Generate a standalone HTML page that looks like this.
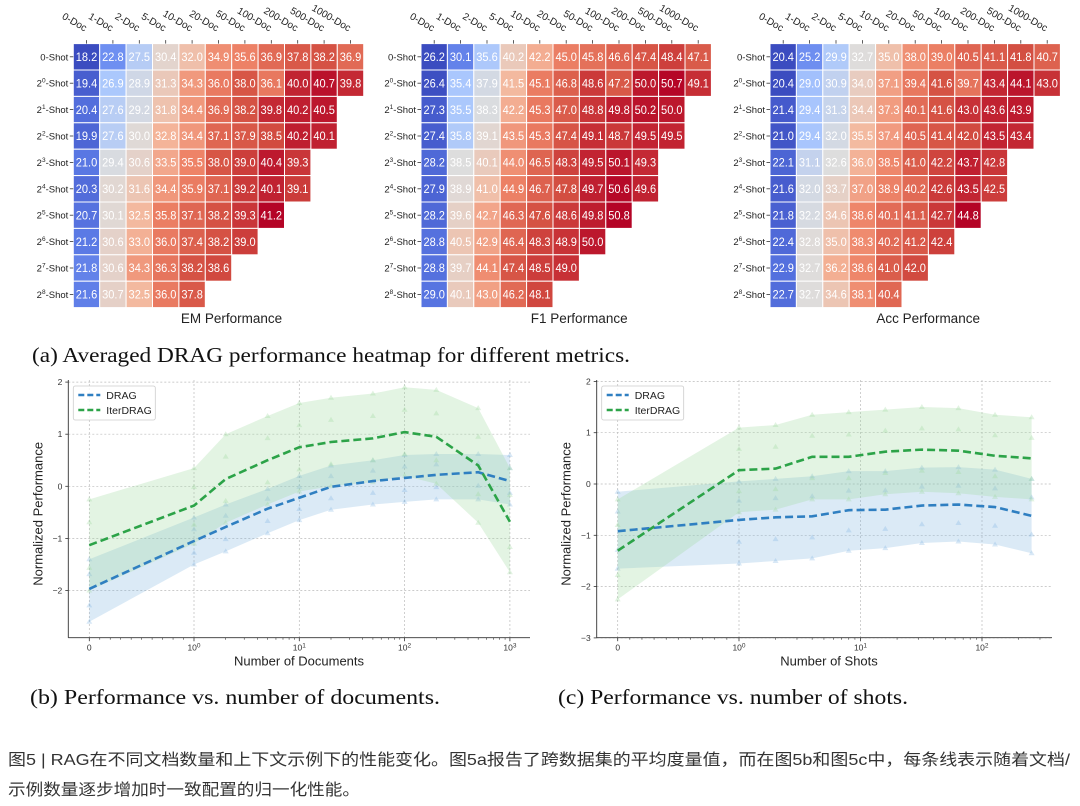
<!DOCTYPE html>
<html><head><meta charset="utf-8"><style>
html,body{margin:0;padding:0;background:#fff;}
svg{display:block;}
</style></head><body>
<svg id="fig" xmlns="http://www.w3.org/2000/svg" width="1080" height="806" viewBox="0 0 1080 806" font-family="'Liberation Sans', 'DejaVu Sans', sans-serif">
<rect x="0" y="0" width="1080" height="806" fill="#fff"/>
<g id="heatmaps"></g>
<g id="chartB"></g>
<g id="chartC"></g>
<text x="32" y="362" font-family="'Liberation Serif', serif" font-size="21" fill="#111" textLength="598" lengthAdjust="spacingAndGlyphs">(a) Averaged DRAG performance heatmap for different metrics.</text>
<text x="30" y="704" font-family="'Liberation Serif', serif" font-size="21" fill="#111" textLength="410" lengthAdjust="spacingAndGlyphs">(b) Performance vs. number of documents.</text>
<text x="558" y="704" font-family="'Liberation Serif', serif" font-size="21" fill="#111" textLength="350" lengthAdjust="spacingAndGlyphs">(c) Performance vs. number of shots.</text>
<text x="8" y="765" font-family="'Liberation Sans', 'Noto Sans CJK SC', sans-serif" font-size="16" fill="#333" textLength="1062" lengthAdjust="spacingAndGlyphs">图5 | RAG在不同文档数量和上下文示例下的性能变化。图5a报告了跨数据集的平均度量值，而在图5b和图5c中，每条线表示随着文档/</text>
<text x="8" y="795" font-family="'Liberation Sans', 'Noto Sans CJK SC', sans-serif" font-size="16" fill="#333" textLength="352" lengthAdjust="spacingAndGlyphs">示例数量逐步增加时一致配置的归一化性能。</text>
</svg>
<script>
// ---------- Heatmap data ----------
const docLabels = ["0-Doc","1-Doc","2-Doc","5-Doc","10-Doc","20-Doc","50-Doc","100-Doc","200-Doc","500-Doc","1000-Doc"];
const shotLabels = ["0","0","1","2","3","4","5","6","7","8"];
const emVals = [
[18.2,22.8,27.5,30.4,32.0,34.9,35.6,36.9,37.8,38.2,36.9],
[19.4,26.9,28.9,31.3,34.3,36.0,38.0,36.1,40.0,40.7,39.8],
[20.4,27.6,29.2,31.8,34.4,36.9,38.2,39.8,40.2,40.5],
[19.9,27.6,30.0,32.8,34.4,37.1,37.9,38.5,40.2,40.1],
[21.0,29.4,30.6,33.5,35.5,38.0,39.0,40.4,39.3],
[20.3,30.2,31.6,34.4,35.9,37.1,39.2,40.1,39.1],
[20.7,30.1,32.5,35.8,37.1,38.2,39.3,41.2],
[21.2,30.6,33.0,36.0,37.4,38.2,39.0],
[21.8,30.6,34.3,36.3,38.2,38.6],
[21.6,30.7,32.5,36.0,37.8]];
const f1Vals = [
[26.2,30.1,35.6,40.2,42.2,45.0,45.8,46.6,47.4,48.4,47.1],
[26.4,35.4,37.9,41.5,45.1,46.8,48.6,47.2,50.0,50.7,49.1],
[27.3,35.5,38.3,42.2,45.3,47.0,48.8,49.8,50.2,50.0],
[27.4,35.8,39.1,43.5,45.3,47.4,49.1,48.7,49.5,49.5],
[28.2,38.5,40.1,44.0,46.5,48.3,49.5,50.1,49.3],
[27.9,38.9,41.0,44.9,46.7,47.8,49.7,50.6,49.6],
[28.2,39.6,42.7,46.3,47.6,48.6,49.8,50.8],
[28.8,40.5,42.9,46.4,48.3,48.9,50.0],
[28.8,39.7,44.1,47.4,48.5,49.0],
[29.0,40.1,43.0,46.2,48.1]];
const accVals = [
[20.4,25.2,29.9,32.7,35.0,38.0,39.0,40.5,41.1,41.8,40.7],
[20.4,29.0,30.9,34.0,37.1,39.4,41.6,39.7,43.4,44.1,43.0],
[21.4,29.4,31.3,34.4,37.3,40.1,41.6,43.0,43.6,43.9],
[21.0,29.4,32.0,35.5,37.4,40.5,41.4,42.0,43.5,43.4],
[22.1,31.1,32.6,36.0,38.5,41.0,42.2,43.7,42.8],
[21.6,32.0,33.7,37.0,38.9,40.2,42.6,43.5,42.5],
[21.8,32.2,34.6,38.6,40.1,41.1,42.7,44.8],
[22.4,32.8,35.0,38.3,40.2,41.2,42.4],
[22.9,32.7,36.2,38.6,41.0,42.0],
[22.7,32.7,34.6,38.1,40.4]];
const heatTitles = ["EM Performance","F1 Performance","Acc Performance"];

// ---------- Line chart data ----------
const docX = [0,1,2,5,10,20,50,100,200,500,1000];
const docDrag = [-1.97,-1.05,-0.78,-0.43,-0.22,-0.01,0.10,0.16,0.22,0.27,0.10];
const docDragHi = [-1.4,-0.6,-0.35,-0.05,0.2,0.4,0.5,0.6,0.62,0.62,0.6];
const docDragLo = [-2.6,-1.5,-1.25,-0.9,-0.65,-0.45,-0.35,-0.3,-0.25,-0.25,-0.35];
const docIter = [-1.13,-0.37,0.14,0.50,0.75,0.85,0.92,1.04,0.95,0.40,-0.68];
const docIterHi = [-0.25,0.35,1.0,1.35,1.6,1.7,1.78,1.9,1.85,1.5,0.35];
const docIterLo = [-2.0,-1.1,-0.7,-0.35,-0.1,0.0,0.08,0.2,0.05,-0.7,-1.65];
const shotX = [0,1,2,4,8,16,32,64,128,256];
const shotDrag = [-0.92,-0.70,-0.65,-0.63,-0.51,-0.50,-0.42,-0.40,-0.45,-0.62];
const shotDragHi = [-0.15,0.05,0.1,0.15,0.25,0.25,0.32,0.33,0.28,0.1];
const shotDragLo = [-1.65,-1.55,-1.5,-1.45,-1.3,-1.25,-1.15,-1.12,-1.18,-1.35];
const shotIter = [-1.30,0.27,0.30,0.53,0.53,0.63,0.67,0.65,0.55,0.50];
const shotIterHi = [-0.3,1.1,1.15,1.35,1.4,1.45,1.5,1.48,1.35,1.3];
const shotIterLo = [-2.25,-0.55,-0.5,-0.3,-0.3,-0.2,-0.15,-0.18,-0.25,-0.3];
const yTicksB = [2,1,0,-1,-2];
const yTicksC = [2,1,0,-1,-2,-3];

const NS = "http://www.w3.org/2000/svg";
function mk(parent, tag, attrs, text){
  const e = document.createElementNS(NS, tag);
  for (const k in attrs) e.setAttribute(k, attrs[k]);
  if (text !== undefined) e.textContent = text;
  parent.appendChild(e);
  return e;
}
const cmapStops = [[0,[59,76,192]],[0.125,[90,120,228]],[0.25,[124,159,249]],[0.375,[170,199,253]],[0.5,[221,221,221]],[0.625,[244,184,157]],[0.75,[238,132,104]],[0.875,[212,80,66]],[1,[180,4,38]]];
function coolwarm(t){
  t = Math.max(0, Math.min(1, t));
  for (let i=1;i<cmapStops.length;i++){
    if (t <= cmapStops[i][0]){
      const a = cmapStops[i-1], b = cmapStops[i];
      const f = (t-a[0])/(b[0]-a[0]);
      const c = a[1].map((v,j)=>Math.round(v+(b[1][j]-v)*f));
      return "rgb("+c.join(",")+")";
    }
  }
  return "rgb(180,4,38)";
}

// ---------- Heatmaps ----------
const hm = document.getElementById("heatmaps");
const heatData = [emVals, f1Vals, accVals];
const heatLeft = [73.3, 421, 770];
const cellW = 26.4, cellH = 26.4, heatTop = 43.6;
heatData.forEach((vals, hi) => {
  const g = mk(hm, "g", {});
  
  
  const flat = vals.flat();
  const mn = Math.min(...flat), mx = Math.max(...flat);
  const x0 = heatLeft[hi];
  vals.forEach((row, r) => {
    row.forEach((v, c) => {
      const x = x0 + c*cellW, y = heatTop + r*cellH;
      const rect = mk(g, "rect", {x:x, y:y, width:cellW, height:cellH, fill:coolwarm((v-mn)/(mx-mn)), stroke:"#fff", "stroke-width":1});
      
      
      const t = mk(g, "text", {x:x+cellW/2, y:y+cellH/2+4.2, "text-anchor":"middle", "font-size":"11.5", fill:"#fff", textLength:"21.5", lengthAdjust:"spacingAndGlyphs"}, v.toFixed(1));
      
      
    });
  });
  shotLabels.forEach((s, r) => {
    const y = heatTop + r*cellH + cellH/2;
    mk(g, "line", {x1:x0-3.5, x2:x0, y1:y, y2:y, stroke:"#333", "stroke-width":0.8});
    const t = mk(g, "text", {x:x0-5, y:y+3.5, "text-anchor":"end", "font-size":"9.5", fill:"#222"});
    
    
    if (r === 0) { t.textContent = "0-Shot"; }
    else {
      mk(t, "tspan", {}, "2");
      mk(t, "tspan", {dy:-4, "font-size":"6.5"}, s);
      mk(t, "tspan", {dy:4}, "-Shot");
    }
  });
  docLabels.forEach((d, c) => {
    const x = x0 + c*cellW + cellW/2;
    mk(g, "line", {x1:x, x2:x, y1:heatTop-3.5, y2:heatTop, stroke:"#333", "stroke-width":0.8});
    const ax = x - 2, ay = heatTop - 12;
    const t = mk(g, "text", {x:ax, y:ay, "text-anchor":"end", "font-size":"10", fill:"#222", transform:"rotate(30 "+ax+" "+ay+")"}, d);
    
    
  });
  const tt = mk(g, "text", {x:x0 + 11*cellW/2 + 13, y:323, "text-anchor":"middle", "font-size":"13.5", fill:"#222"}, heatTitles[hi]);
  
  
});

// ---------- Line charts ----------
function lineChart(gid, cfg){
  const g = document.getElementById(gid);
  const sx = v => v === 0 ? cfg.x0 : cfg.x1 + Math.log10(v)*cfg.dec;
  const sy = v => cfg.yZero - v*cfg.yUnit;
  cfg.xTickVals.forEach(v => {
    mk(g, "line", {x1:sx(v), x2:sx(v), y1:cfg.top, y2:cfg.bottom, stroke:"#bbb", "stroke-width":0.7, "stroke-dasharray":"2,2"});
  });
  cfg.yTicks.forEach(v => {
    mk(g, "line", {x1:cfg.left, x2:cfg.right, y1:sy(v), y2:sy(v), stroke:"#bbb", "stroke-width":0.7, "stroke-dasharray":"2,2"});
    mk(g, "line", {x1:cfg.left-3, x2:cfg.left, y1:sy(v), y2:sy(v), stroke:"#333", "stroke-width":0.8});
    const t = mk(g, "text", {x:cfg.left-6, y:sy(v)+3, "text-anchor":"end", "font-size":"8.5", fill:"#333"}, v < 0 ? "\u2212" + Math.abs(v) : String(v));
    
    
  });
  cfg.series.forEach(s => {
    const hiPts = cfg.xs.map((x,i)=>sx(x)+","+sy(s.hi[i]));
    const loPts = cfg.xs.map((x,i)=>sx(x)+","+sy(s.lo[i])).reverse();
    const band = mk(g, "polygon", {points:hiPts.concat(loPts).join(" "), fill:s.band, "fill-opacity":0.28});
    
    
    cfg.xs.forEach((x,i) => {
      [s.hi[i], s.lo[i], (s.hi[i]+s.vals[i])/2, (s.lo[i]+s.vals[i])/2].forEach(v => {
        const cx = sx(x), cy = sy(v);
        mk(g, "polygon", {points:(cx)+","+(cy-3)+" "+(cx-3)+","+(cy+2)+" "+(cx+3)+","+(cy+2), fill:s.band, "fill-opacity":0.3});
      });
    });
  });
  cfg.series.forEach(s => {
    const p = mk(g, "polyline", {points:cfg.xs.map((x,i)=>sx(x)+","+sy(s.vals[i])).join(" "), fill:"none", stroke:s.color, "stroke-width":2.6, "stroke-dasharray":"8,4"});
    
    
  });
  mk(g, "line", {x1:cfg.left, x2:cfg.left, y1:cfg.top, y2:cfg.bottom, stroke:"#333", "stroke-width":0.9});
  mk(g, "line", {x1:cfg.left, x2:cfg.right, y1:cfg.bottom, y2:cfg.bottom, stroke:"#333", "stroke-width":0.9});
  cfg.xTickVals.forEach((v,i) => {
    mk(g, "line", {x1:sx(v), x2:sx(v), y1:cfg.bottom, y2:cfg.bottom+3.5, stroke:"#333", "stroke-width":0.8});
    const t = mk(g, "text", {x:sx(v), y:cfg.bottom+13, "text-anchor":"middle", "font-size":"8.5", fill:"#333"});
    
    
    if (v === 0) t.textContent = "0";
    else { mk(t, "tspan", {}, "10"); mk(t, "tspan", {dy:-3, "font-size":"6.5"}, String(Math.round(Math.log10(v)))); }
  });
  for (let d = 0; d < cfg.decades; d++) {
    for (let m = 2; m <= 9; m++) {
      const v = Math.pow(10, d) * m;
      if (sx(v) < cfg.right) mk(g, "line", {x1:sx(v), x2:sx(v), y1:cfg.bottom, y2:cfg.bottom+2, stroke:"#333", "stroke-width":0.6});
    }
  }
  for (let m = 1; m <= 9; m++) {
    const xx = cfg.x0 + (cfg.x1-cfg.x0)*m/10;
    mk(g, "line", {x1:xx, x2:xx, y1:cfg.bottom, y2:cfg.bottom+2, stroke:"#333", "stroke-width":0.6});
  }
  const xl = mk(g, "text", {x:cfg.xLabelX, y:cfg.bottom+28, "text-anchor":"middle", "font-size":"13", fill:"#222"}, cfg.xLabel);
  
  
  const yl = mk(g, "text", {x:cfg.left-26, y:(cfg.top+cfg.bottom)/2+5, "text-anchor":"middle", "font-size":"13", fill:"#222", transform:"rotate(-90 "+(cfg.left-26)+" "+((cfg.top+cfg.bottom)/2+5)+")"}, "Normalized Performance");
  
  
  const lg = mk(g, "g", {});
  
  
  mk(lg, "rect", {x:cfg.left+5, y:cfg.top+6, width:cfg.legendW, height:34, fill:"#fff", "fill-opacity":0.85, stroke:"#ccc", "stroke-width":0.8, rx:2});
  cfg.series.forEach((s,i) => {
    const yy = cfg.top + 15 + i*15;
    mk(lg, "line", {x1:cfg.left+10, x2:cfg.left+32, y1:yy, y2:yy, stroke:s.color, "stroke-width":2.4, "stroke-dasharray":"6,3"});
    const t = mk(lg, "text", {x:cfg.left+38, y:yy+4, "font-size":"10.5", fill:"#222"}, s.label);
    
    
  });
}

lineChart("chartB", {
  x0:89.3, x1:194, dec:105.3, decades:3, yZero:486.3, yUnit:52.1,
  left:68.3, right:530, top:380, bottom:637.7,
  xs:docX, xTickVals:[0,1,10,100,1000], yTicks:yTicksB,
  xLabel:"Number of Documents", xLabelX:299, legendW:82,
  series:[
    {name:"drag", label:"DRAG", color:"#2f7fc1", band:"#7fb3e0", vals:docDrag, hi:docDragHi, lo:docDragLo},
    {name:"iterdrag", label:"IterDRAG", color:"#2ca348", band:"#9ad69a", vals:docIter, hi:docIterHi, lo:docIterLo}
  ]
});
lineChart("chartC", {
  x0:617.7, x1:739, dec:121.5, decades:3, yZero:484, yUnit:51.3,
  left:596.7, right:1052, top:380, bottom:637.7,
  xs:shotX, xTickVals:[0,1,10,100], yTicks:yTicksC,
  xLabel:"Number of Shots", xLabelX:829, legendW:82,
  series:[
    {name:"drag", label:"DRAG", color:"#2f7fc1", band:"#7fb3e0", vals:shotDrag, hi:shotDragHi, lo:shotDragLo},
    {name:"iterdrag", label:"IterDRAG", color:"#2ca348", band:"#9ad69a", vals:shotIter, hi:shotIterHi, lo:shotIterLo}
  ]
});
</script>
</body></html>
